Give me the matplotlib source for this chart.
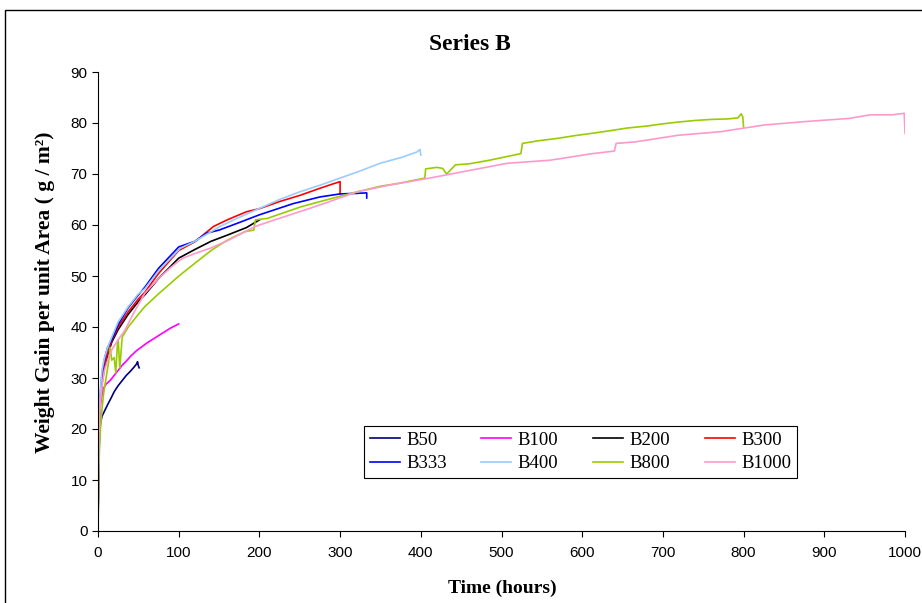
import matplotlib
matplotlib.use("Agg")
import matplotlib.pyplot as plt
from matplotlib.patches import Rectangle

# Datos (tiempo en horas, ganancia de peso en g/m2)
b50_t = [0, 0.5, 1, 2, 3, 5, 8, 12, 16, 20, 25, 30, 35, 40, 45, 48, 49, 50, 51]
b50_v = [0, 8, 14, 19, 21, 22.5, 23.5, 24.8, 26, 27.3, 28.5, 29.5, 30.5, 31.3, 32.2, 32.8, 33.2, 32.4, 32]

b100_t = [0, 0.5, 1, 2, 4, 7, 10, 15, 20, 25, 30, 35, 40, 48, 55, 60, 70, 80, 90, 100]
b100_v = [0, 10, 17, 23, 26, 28, 28.8, 29.5, 30.5, 31.5, 32.5, 33.3, 34.2, 35.4, 36.2, 36.8, 37.8, 38.8, 39.8, 40.6]

b200_t = [0, 0.5, 1, 2, 3, 5, 8, 12, 17, 25, 37.5, 50, 58, 75, 100, 120, 140, 160, 184, 200]
b200_v = [0, 12, 18, 23, 26, 29, 32, 34.5, 37, 39.5, 42.5, 45, 46.3, 49.5, 53.5, 55.2, 56.8, 58, 59.5, 61]

b300_t = [0, 0.5, 1, 2, 3, 5, 8, 12, 17, 25, 37.5, 50, 58, 75, 100, 120, 143, 160, 184, 200,
          225, 250, 275, 290, 300, 300]
b300_v = [0, 12, 18, 23, 26, 29.5, 32.5, 35, 37.3, 40, 43, 45.5, 46.8, 50.5, 55, 56.7, 59.7, 61, 62.6, 63.2,
          64.6, 65.8, 67.2, 68, 68.5, 66.1]

b333_t = [0, 0.5, 1, 2, 3, 5, 8.7, 12, 17, 25, 37.5, 50, 58, 75, 100, 120, 134.7, 150, 172, 200,
          242, 275, 300, 320, 333, 333]
b333_v = [0, 10, 17, 24, 27, 31, 34.2, 36, 37.5, 40.5, 43.8, 46.3, 47.8, 51.5, 55.7, 56.8, 58.4, 59, 60.3, 62,
          64.2, 65.5, 66.1, 66.2, 66.3, 65.3]

b400_t = [0, 0.5, 1, 2, 3, 5, 8, 12, 17, 25, 37.5, 50, 58, 75, 101.6, 120, 151, 175, 200.7, 225,
          250, 275, 300, 325, 349.4, 375, 395, 399, 400]
b400_v = [0, 12, 19, 25, 28, 31.5, 34, 36, 38, 41, 44, 46.5, 47.5, 51, 55.4, 56.8, 59.7, 61.5, 63.3, 65,
          66.5, 67.8, 69.2, 70.6, 72.1, 73.2, 74.3, 74.8, 73.7]

b800_t = [0, 1, 2, 3, 5, 7, 10, 13, 15, 17, 20, 22, 24, 25, 27, 30, 37.5, 50, 58, 75, 99.5, 120, 141,
          160, 182, 193, 195, 210, 252, 280, 321, 350, 374, 405, 406, 420, 427, 432, 443, 460, 485,
          500, 524, 526, 545, 570, 590, 613, 635, 655, 680, 698, 720, 740, 760, 780, 793, 797, 799, 800]
b800_v = [0, 12, 17, 20, 24, 27, 30, 33, 36, 33.5, 34, 31, 36.5, 37.5, 32, 38, 40, 42.5, 44, 46.5, 49.9, 52.5, 55.1,
          57, 58.7, 59, 61, 61.3, 63.6, 64.8, 66.5, 67.6, 68.2, 69.2, 71, 71.3, 71.1, 70, 71.8, 72, 72.7,
          73.2, 74, 76, 76.5, 77, 77.5, 78, 78.5, 79, 79.4, 79.8, 80.2, 80.5, 80.7, 80.8, 81, 81.8, 81.2, 79.2]

b1000_t = [0, 0.5, 1, 2, 3, 5, 8, 12, 17, 25, 33.5, 45, 58, 75, 91, 105, 120, 140, 161.5, 180, 194.5,
           215, 244, 280, 321, 360, 411, 454, 507, 560, 613, 640, 642, 666, 719, 772, 825, 878, 931,
           957, 984, 999, 1000]
b1000_v = [0, 10, 17, 22, 25, 28.5, 31.5, 33.5, 35.5, 37.5, 39.4, 43, 46.6, 49.5, 51.8, 53.5, 54.4, 55.5, 57, 58.5, 59.7,
           60.8, 62.3, 64.2, 66.5, 67.8, 69.2, 70.5, 72.1, 72.7, 74, 74.5, 76, 76.3, 77.6, 78.3, 79.6, 80.3, 80.9,
           81.6, 81.6, 81.9, 78]

nombres = ["B50", "B100", "B200", "B300", "B333", "B400", "B800", "B1000"]
tiempos = [b50_t, b100_t, b200_t, b300_t, b333_t, b400_t, b800_t, b1000_t]
valores = [b50_v, b100_v, b200_v, b300_v, b333_v, b400_v, b800_v, b1000_v]
colores = ["#000080", "#FF00FF", "#000000", "#FF0000", "#0000FF", "#99CCFF", "#99CC00", "#FF99CC"]

fig = plt.figure(figsize=(9.22, 6.03), dpi=100)
ax = fig.add_axes([98/922, 1-531/603, 807/922, 459/603])

lineas = {}
for nom, t, v, c in zip(nombres, tiempos, valores, colores):
    lineas[nom], = ax.plot(t, v, color=c, lw=1.2, label=nom)

ax.set_xlim(0, 1000)
ax.set_ylim(0, 90)
ax.set_xticks(range(0, 1001, 100))
ax.set_yticks(range(0, 91, 10))
ax.spines["top"].set_visible(False)
ax.spines["right"].set_visible(False)
ax.tick_params(direction="out", length=4, width=0.8, labelsize=11)
for lab in ax.get_xticklabels() + ax.get_yticklabels():
    lab.set_fontfamily("Liberation Sans")
ax.tick_params(axis="x", pad=7)

# orden por filas en la leyenda (matplotlib llena por columnas)
orden = ["B50", "B333", "B100", "B400", "B200", "B800", "B300", "B1000"]
leg = ax.legend([lineas[n] for n in orden], orden, ncol=4, loc="lower left",
                bbox_to_anchor=(0.3296, 0.1155, 0.5366, 0.148), mode="expand",
                prop={"family": "Liberation Serif", "size": 13.5}, fancybox=False,
                edgecolor="black", handlelength=1.6, handletextpad=0.35,
                borderaxespad=0, borderpad=0.3, labelspacing=0.35, framealpha=1)
leg.get_frame().set_linewidth(0.8)

fig.text(470/922, 1-44/603, "Series B", ha="center", va="center",
         fontfamily="Liberation Serif", fontweight="bold", fontsize=17)
fig.text(502/922, 1-588/603, "Time (hours)", ha="center", va="center",
         fontfamily="Liberation Serif", fontweight="bold", fontsize=14)
fig.text(45/922, 1-292/603, "Weight Gain per unit Area ( g / m²)", ha="center", va="center",
         rotation=90, fontfamily="Liberation Serif", fontweight="bold", fontsize=15.5)

# marco exterior del grafico
fig.patches.append(Rectangle((5/922, -0.1), 1.2, 0.1 + 1-10/603, transform=fig.transFigure,
                             fill=False, edgecolor="black", lw=1))

fig.savefig("out.png", dpi=100)
